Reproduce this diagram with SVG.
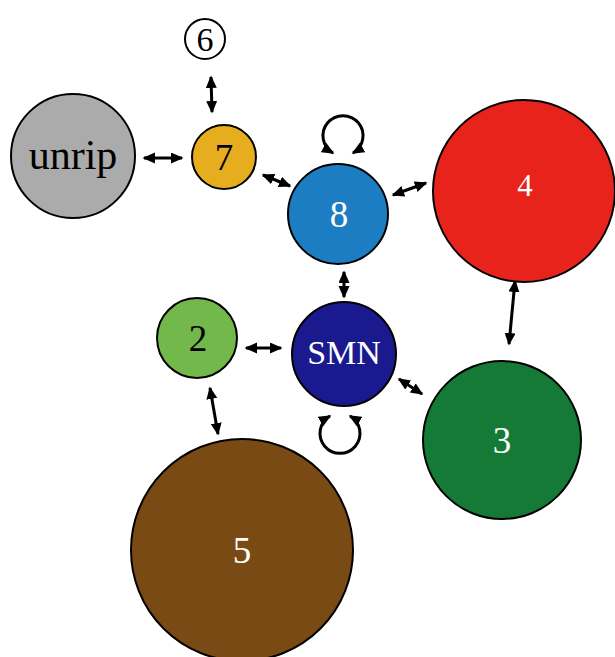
<svg xmlns="http://www.w3.org/2000/svg" width="615" height="657" viewBox="0 0 615 657">
<style>
.n{stroke:#000;stroke-width:2}
.t{font-family:"Liberation Serif","Times New Roman",serif;font-size:37px;text-anchor:middle;dominant-baseline:central}
.w{fill:#fff}
.b{fill:#000}
.c{fill:none;stroke:#000;stroke-width:3;marker-start:url(#ah);marker-end:url(#ah)}
</style>
<defs>
<marker id="ah" markerUnits="userSpaceOnUse" markerWidth="14" markerHeight="12" refX="11" refY="5.5" orient="auto-start-reverse">
<path d="M0,0 L12.5,5.5 L0,11 z" fill="#000"/>
</marker>
</defs>
<rect width="615" height="657" fill="#fff"/>
<g id="connectors">
<line class="c" x1="211" y1="77" x2="212" y2="112"/>
<line class="c" x1="144" y1="158" x2="182" y2="158"/>
<line class="c" x1="263" y1="175" x2="290" y2="186"/>
<line class="c" x1="393" y1="195" x2="426" y2="183"/>
<line class="c" x1="344" y1="272" x2="344" y2="297"/>
<line class="c" x1="246" y1="348" x2="281" y2="348"/>
<line class="c" x1="399" y1="379" x2="422" y2="394"/>
<line class="c" x1="515" y1="281" x2="509" y2="344"/>
<line class="c" x1="210" y1="388" x2="218" y2="434"/>
<path class="c" d="M333,153 A20,20 0 1 1 353,153"/>
<path class="c" d="M330,416 A20,20 0 1 0 350,416"/>
</g>
<g id="node6"><circle class="n" cx="205" cy="39" r="20" fill="#fff"/><text class="t b" x="205" y="39" style="font-size:34px">6</text></g>
<g id="node7"><circle class="n" cx="224" cy="157" r="32" fill="#E6AE1F"/><text class="t b" x="224" y="157">7</text></g>
<g id="unrip"><circle class="n" cx="73" cy="156" r="62" fill="#ABABAB"/><text class="t b" x="73" y="155" style="font-size:42px">unrip</text></g>
<g id="node8"><circle class="n" cx="338" cy="214" r="50" fill="#1C7DC3"/><text class="t w" x="339" y="214">8</text></g>
<g id="node4"><circle class="n" cx="524" cy="191" r="91" fill="#E8231C"/><text class="t w" x="525" y="185" style="font-size:31px">4</text></g>
<g id="smn"><circle class="n" cx="344" cy="354" r="52" fill="#1A1A8E"/><text class="t w" x="344" y="352" style="font-size:34px">SMN</text></g>
<g id="node2"><circle class="n" cx="197" cy="338" r="40" fill="#72B84B"/><text class="t b" x="198" y="338">2</text></g>
<g id="node3"><circle class="n" cx="502" cy="440" r="79" fill="#157A35"/><text class="t w" x="502" y="440">3</text></g>
<g id="node5"><circle class="n" cx="242" cy="550" r="111" fill="#7A4A14"/><text class="t w" x="242" y="550">5</text></g>
</svg>
